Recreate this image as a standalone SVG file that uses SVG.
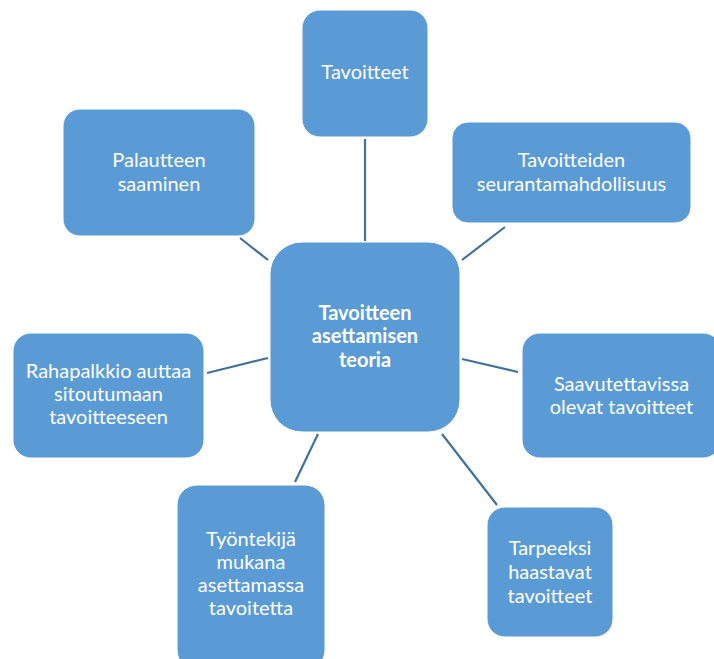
<svg xmlns="http://www.w3.org/2000/svg" width="714" height="659" viewBox="0 0 714 659">
  <style>
    .box { fill: #5B9BD5; stroke: #ffffff; stroke-width: 1; }
    .lbl { font-family: Lato, "Open Sans", "Liberation Sans", sans-serif; font-size: 20px; fill: #ffffff; text-anchor: middle; }
    .hub { font-weight: bold; }
    .link { stroke: #41719C; stroke-width: 2.2; fill: none; }
  </style>
  <rect width="714" height="659" fill="#ffffff"/>

  <!-- spokes from the centre hub to the surrounding boxes -->
  <g id="connectors">
    <line class="link" x1="365" y1="139" x2="365" y2="241"/>
    <line class="link" x1="505" y1="227" x2="462" y2="260"/>
    <line class="link" x1="462" y1="359" x2="518" y2="372"/>
    <line class="link" x1="442" y1="434" x2="497" y2="505"/>
    <line class="link" x1="318" y1="434" x2="295" y2="482"/>
    <line class="link" x1="207" y1="373" x2="268" y2="358"/>
    <line class="link" x1="240" y1="238" x2="268" y2="260"/>
  </g>

  <g id="hub">
    <rect class="box" x="270" y="242" width="190" height="190" rx="32"/>
    <text class="lbl hub" x="365" y="320">Tavoitteen</text>
    <text class="lbl hub" x="365" y="343">asettamisen</text>
    <text class="lbl hub" x="365" y="367">teoria</text>
  </g>

  <g id="tavoitteet">
    <rect class="box" x="302" y="10" width="126" height="127" rx="18"/>
    <text class="lbl" x="365" y="79">Tavoitteet</text>
  </g>

  <g id="seuranta">
    <rect class="box" x="452" y="122" width="239" height="101" rx="16"/>
    <text class="lbl" x="571.5" y="167">Tavoitteiden</text>
    <text class="lbl" x="571.5" y="191">seurantamahdollisuus</text>
  </g>

  <g id="saavutettavissa">
    <rect class="box" x="522" y="333" width="199" height="125" rx="18"/>
    <text class="lbl" x="621.5" y="391">Saavutettavissa</text>
    <text class="lbl" x="621.5" y="414">olevat tavoitteet</text>
  </g>

  <g id="haastavat">
    <rect class="box" x="487" y="507" width="126" height="130" rx="18"/>
    <text class="lbl" x="550" y="555">Tarpeeksi</text>
    <text class="lbl" x="550" y="579">haastavat</text>
    <text class="lbl" x="550" y="603">tavoitteet</text>
  </g>

  <g id="tyontekija">
    <rect class="box" x="177" y="485" width="148" height="185" rx="20"/>
    <text class="lbl" x="251" y="546">Työntekijä</text>
    <text class="lbl" x="251" y="569">mukana</text>
    <text class="lbl" x="251" y="592">asettamassa</text>
    <text class="lbl" x="251" y="615">tavoitetta</text>
  </g>

  <g id="rahapalkkio">
    <rect class="box" x="13" y="333" width="191" height="125" rx="18"/>
    <text class="lbl" x="108.5" y="378">Rahapalkkio auttaa</text>
    <text class="lbl" x="108.5" y="401">sitoutumaan</text>
    <text class="lbl" x="108.5" y="424">tavoitteeseen</text>
  </g>

  <g id="palaute">
    <rect class="box" x="63" y="109" width="192" height="127" rx="17"/>
    <text class="lbl" x="159" y="167">Palautteen</text>
    <text class="lbl" x="159" y="191">saaminen</text>
  </g>
</svg>
